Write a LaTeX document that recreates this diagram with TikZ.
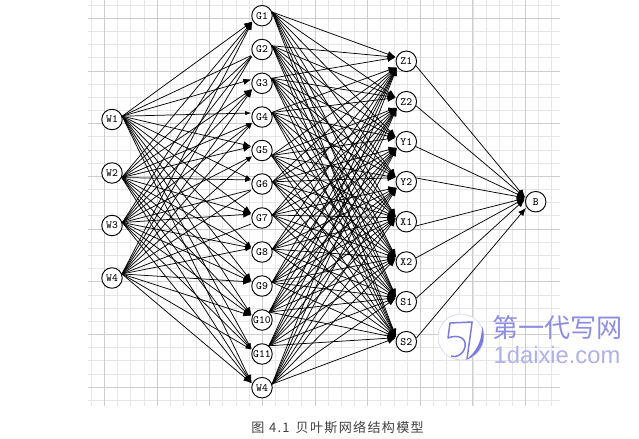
\documentclass[tikz,border=0pt]{standalone}
\usepackage{fontspec}
\usetikzlibrary{arrows.meta}
\newfontfamily\capfont[LetterSpace=10]{Noto Sans CJK SC}
\newfontfamily\wmfont{Noto Sans CJK SC}
\newfontfamily\wmlat{Liberation Sans}
\definecolor{gmin}{HTML}{E6E6E6}
\definecolor{gmaj}{HTML}{CDCDCD}
\definecolor{wm}{HTML}{7A7ADC}
\tikzset{
  nd/.style={circle,draw=black,fill=white,line width=0.7pt,minimum size=15.4pt,inner sep=0pt,font=\ttfamily\fontsize{8.3}{8.5}\selectfont},
  edge/.style={draw=black,line width=0.55pt,-{Latex[length=6pt,width=4.8pt]},shorten >=0.6pt},
  smalledge/.style={draw=black,line width=0.55pt,-{Latex[length=4.5pt,width=3.2pt]},shorten >=0.6pt},
  plain/.style={draw=black,line width=0.55pt,shorten >=1.5pt},
  gridmin/.style={draw=gmin,line width=0.55pt},
  gridmaj/.style={draw=gmaj,line width=0.6pt},
}
\begin{document}
\begin{tikzpicture}[x=0.75pt,y=-0.75pt]
\useasboundingbox (0,0) rectangle (639,439);
% grid
\foreach \k in {-1,0,...,34}{
  \pgfmathsetmacro\gx{104.4+13.16*\k}
  \draw[gridmin] (\gx,0) -- (\gx,405.5);
}
\foreach \k in {-1,0,...,29}{
  \pgfmathsetmacro\gy{18.3+13.17*\k}
  \draw[gridmin] (88,\gy) -- (560,\gy);
}
\foreach \k in {0,...,8}{
  \pgfmathsetmacro\gx{104.4+52.64*\k}
  \draw[gridmaj] (\gx,0) -- (\gx,405.5);
}
\foreach \k in {0,...,7}{
  \pgfmathsetmacro\gy{18.3+52.68*\k}
  \draw[gridmaj] (88,\gy) -- (560,\gy);
}
% watermark
\fill[white] (461,337) circle (23);
\draw[wm!35,line width=0.4pt] (461,337) circle (23);
\fill[wm] (482,326) .. controls (487,340) and (481,354) .. (466,360) .. controls (476,352) and (482,342) .. (482,326) -- cycle;
\draw[wm,line width=1.1pt,line join=round] (473,322) -- (450,323) -- (448,338) .. controls (458,334) and (467,338) .. (465,347) .. controls (463,355) and (456,358) .. (451,356);
\draw[wm,line width=1.1pt] (472,323) -- (467,359);
\node[text=wm!85,font=\wmfont\fontsize{19.6}{20}\selectfont,inner sep=0pt] (wmcn) at (557.5,327.5) {第一代写网};
\node[text=wm!60,font=\wmlat\fontsize{17.8}{18}\selectfont,inner sep=0pt] (wmen) at (557,355) {1daixie.com};
% nodes
\foreach \i/\y in {1/119.5,2/173,3/225.5,4/278}
  \node[nd] (W\i) at (112,\y) {W\i};
\foreach \i/\y/\t in {1/15.7/G1,2/49.5/G2,3/83.3/G3,4/117/G4,5/150.5/G5,6/184/G6,7/218/G7,8/252/G8,9/286/G9,10/320/G10,11/354/G11,12/387.7/W4}
  \node[nd] (G\i) at (262,\y) {\t};
\foreach \i/\y/\t in {1/61.3/Z1,2/101.7/Z2,3/141.7/Y1,4/181.7/Y2,5/221.7/X1,6/262/X2,7/301.7/S1,8/341.7/S2}
  \node[nd] (R\i) at (406.3,\y) {\t};
\node[nd] (B) at (535.7,201.7) {B};
% W -> G : k = 0 plain, 1 small head, 2 full head
\foreach \s/\a/\sy in {1/18/119.5,2/-25/173,3/16/225.5,4/22/278}{
  \foreach \t/\ty/\lowk/\upk in {1/15.7/2/2,2/49.5/0/0,3/83.3/2/2,4/117/1/1,5/150.5/1/2,6/184/0/1,7/218/0/2,8/252/0/1,9/286/0/2,10/320/2/2,11/354/1/1,12/387.7/2/2}{
    \pgfmathtruncatemacro\isup{\sy<\ty+38?1:0}
    \ifnum\isup=1 \def\port{158}\let\kind\upk \else \def\port{210}\let\kind\lowk \fi
    \ifcase\kind
      \draw[plain] (W\s.\a) -- (G\t.\port);
    \or
      \draw[smalledge] (W\s.\a) -- (G\t.\port);
    \or
      \draw[edge] (W\s.\a) -- (G\t.\port);
    \fi
  }
}
% G -> R
\foreach \s/\a/\sy in {1/20/15.7,2/20/49.5,3/28/83.3,4/25/117,5/-28/150.5,6/12/184,7/16/218,8/16/252,9/20/286,10/48/320,11/50/354,12/20/387.7}{
  \foreach \t/\ty/\single in {1/61.3/0,2/101.7/0,3/141.7/0,4/181.7/0,5/221.7/1,6/262/1,7/301.7/1,8/341.7/1}{
    \pgfmathtruncatemacro\port{(\single==1||\sy<\ty+25)?158:212}
    \draw[edge] (G\s.\a) -- (R\t.\port);
  }
}
% R -> B
\foreach \s/\a/\p in {1/-25/160,2/-23/160,3/-27/160,4/20/160,5/-23/160,6/23/160,7/20/165,8/20/211}
  \draw[edge] (R\s.\a) -- (B.\p);
% caption
\node[anchor=west,inner sep=0pt,text=black!75,font=\capfont\fontsize{9.8}{10}\selectfont] (cap) at (251,427.5) {图\hspace{3.5pt}4.1\hspace{4.5pt}贝叶斯网络结构模型};
\end{tikzpicture}
\end{document}
